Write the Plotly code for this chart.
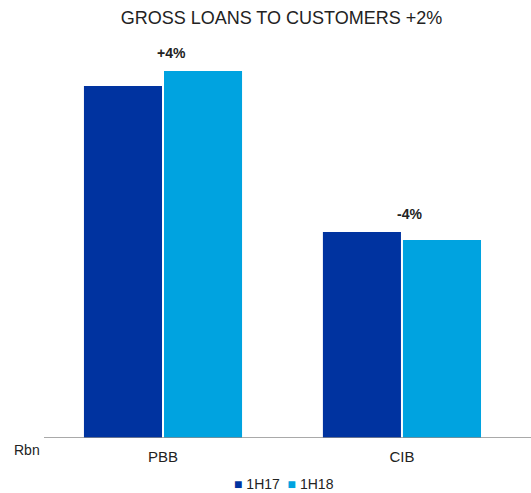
import plotly.graph_objects as go

# Gross loans to customers by segment (Rbn)
categories = ["PBB", "CIB"]
loans_1h17 = [610, 357]
loans_1h18 = [636, 343]
growth_labels = ["+4%", "-4%"]

DARK_BLUE = "#0033A0"
LIGHT_BLUE = "#00A3E0"
FONT = "Liberation Sans, Arial, sans-serif"

fig = go.Figure()
fig.add_trace(go.Bar(x=categories, y=loans_1h17, name="1H17",
                     marker=dict(color=DARK_BLUE, line=dict(width=0))))
fig.add_trace(go.Bar(x=categories, y=loans_1h18, name="1H18",
                     marker=dict(color=LIGHT_BLUE, line=dict(width=0))))

# Growth labels above each category
for cat, a, b, lab in zip(categories, loans_1h17, loans_1h18, growth_labels):
    fig.add_annotation(x=cat, y=max(a, b), text=f"<b>{lab}</b>", showarrow=False,
                       xshift=8, yshift=18, yanchor="middle",
                       font=dict(family=FONT, size=14, color="#222222"))

# Unit label at the baseline
fig.add_annotation(xref="paper", yref="paper", x=-0.035, y=-0.032, text="Rbn",
                   showarrow=False, xanchor="center", yanchor="middle",
                   font=dict(family=FONT, size=14, color="#222222"))

# Compact legend: small squares right before the labels
fig.add_annotation(xref="paper", yref="paper", x=0.493, y=-0.122,
                   text=f"<span style='color:{DARK_BLUE}'>■</span> 1H17  "
                        f"<span style='color:{LIGHT_BLUE}'>■</span> 1H18",
                   showarrow=False, xanchor="center", yanchor="middle",
                   font=dict(family=FONT, size=14, color="#222222"))

# Baseline
fig.add_shape(type="line", xref="paper", yref="y", x0=0, x1=1, y0=0, y1=0,
              line=dict(color="#8c8c8c", width=1.5))

fig.update_layout(
    width=531, height=493,
    margin=dict(l=44, r=0, t=60, b=55),
    paper_bgcolor="white", plot_bgcolor="white",
    barmode="group", bargap=0.33, bargroupgap=0.025,
    showlegend=False,
    title=dict(text="GROSS LOANS TO CUSTOMERS +2%", x=0.53, xanchor="center",
               y=0.965, yanchor="middle",
               font=dict(family=FONT, size=18, color="#222222")),
    xaxis=dict(range=[-0.498, 1.54], showgrid=False, showline=False, zeroline=False,
               ticks="", ticklabelstandoff=8,
               tickfont=dict(family=FONT, size=15, color="#222222")),
    yaxis=dict(range=[0, 655], visible=False),
    font=dict(family=FONT),
)

fig.write_html("out.html")
